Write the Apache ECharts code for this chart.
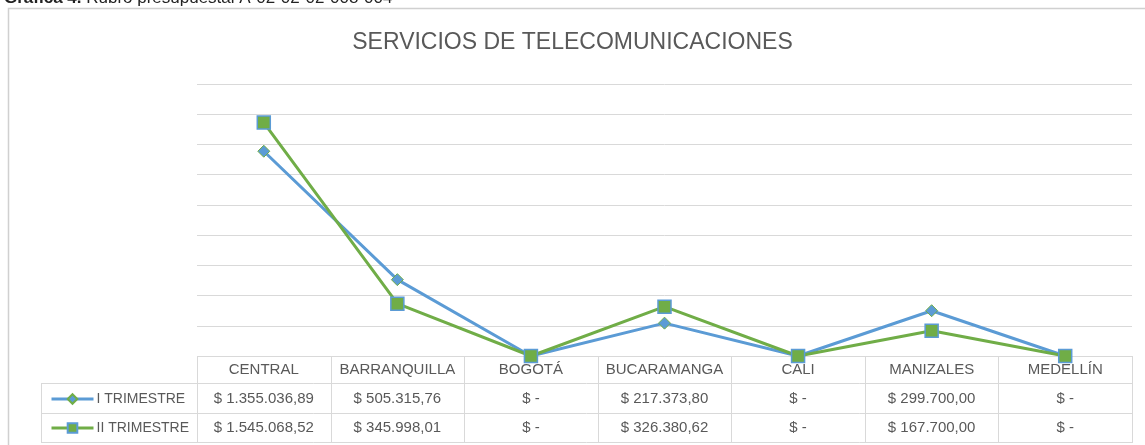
<!DOCTYPE html>
<html>
<head>
<meta charset="utf-8">
<script src="https://cdn.jsdelivr.net/npm/echarts@6/dist/echarts.min.js"></script>
<style>
  html, body { margin: 0; padding: 0; background: #fff; }
  #chart { width: 1145px; height: 445px; }
</style>
</head>
<body>
<div id="chart"></div>
<script>
// data
const categories = ['CENTRAL', 'BARRANQUILLA', 'BOGOTÁ', 'BUCARAMANGA', 'CALI', 'MANIZALES', 'MEDELLÍN'];
const seriesNames = ['I TRIMESTRE', 'II TRIMESTRE'];
const trimestreI = [1355036.89, 505315.76, 0, 217373.80, 0, 299700.00, 0];
const trimestreII = [1545068.52, 345998.01, 0, 326380.62, 0, 167700.00, 0];

// layout
const W = 1145;
const GRID_L = 197, GRID_R = 13, GRID_T = 84, BASE_Y = 356;
const ROWS = [356, 383, 413, 442];
const LEG_L = 41;
const LINE_C = '#d9d9d9';
const TXT_C = '#595959';
const FONT = 'Liberation Sans';

// "$ 1.355.036,89" style, zero as "$ -"
function money(v) {
    if (!v) return '$ -';
    const parts = v.toFixed(2).split('.');
    const ent = parts[0].replace(/\B(?=(\d{3})+(?!\d))/g, '.');
    return '$ ' + ent + ',' + parts[1];
}

const myChart = echarts.init(document.getElementById('chart'));

// table borders
const tableLines = [];
const plotW = W - GRID_L - GRID_R;
const bw = plotW / categories.length;
function hline(x1, x2, y) {
    tableLines.push({ type: 'line', silent: true, shape: { x1: x1, y1: y + 0.5, x2: x2, y2: y + 0.5 }, style: { stroke: LINE_C, lineWidth: 1 } });
}
function vline(x, y1, y2) {
    tableLines.push({ type: 'line', silent: true, shape: { x1: x + 0.5, y1: y1, x2: x + 0.5, y2: y2 }, style: { stroke: LINE_C, lineWidth: 1 } });
}
hline(GRID_L, W - GRID_R, ROWS[0]);
for (let r = 1; r < ROWS.length; r++) hline(LEG_L, W - GRID_R, ROWS[r]);
vline(LEG_L, ROWS[1], ROWS[3] + 1);
for (let i = 0; i <= categories.length; i++) vline(Math.round(GRID_L + i * bw), ROWS[0], ROWS[3] + 1);

const cellLabel = { color: TXT_C, fontSize: 15, fontFamily: FONT, interval: 0 };

myChart.setOption({
    animation: false,
    title: {
        text: 'SERVICIOS DE TELECOMUNICACIONES',
        left: 'center',
        top: 31,
        padding: 0,
        textStyle: { color: TXT_C, fontSize: 23, fontWeight: 'normal', fontFamily: FONT }
    },
    legend: {
        orient: 'vertical',
        left: 45,
        top: 387,
        itemGap: 15,
        itemWidth: 42,
        itemHeight: 12,
        data: [
            { name: seriesNames[0], lineStyle: { width: 3 } },
            { name: seriesNames[1], lineStyle: { width: 3 } }
        ],
        lineStyle: { width: 3 },
        textStyle: { color: TXT_C, fontSize: 14, fontFamily: FONT, padding: [0, 0, 0, -2] }
    },
    grid: { left: GRID_L, right: GRID_R, top: GRID_T, bottom: 445 - BASE_Y },
    xAxis: [
        {
            type: 'category',
            data: categories,
            boundaryGap: true,
            axisLine: { show: false },
            axisTick: { show: false },
            axisLabel: Object.assign({ margin: 6 }, cellLabel)
        },
        {
            type: 'category',
            data: categories,
            position: 'bottom',
            offset: 29,
            axisLine: { show: false },
            axisTick: { show: false },
            axisLabel: Object.assign({ margin: 6, formatter: (v, i) => money(trimestreI[i]) }, cellLabel)
        },
        {
            type: 'category',
            data: categories,
            position: 'bottom',
            offset: 58,
            axisLine: { show: false },
            axisTick: { show: false },
            axisLabel: Object.assign({ margin: 6, formatter: (v, i) => money(trimestreII[i]) }, cellLabel)
        }
    ],
    yAxis: {
        type: 'value',
        min: 0,
        max: 1800000,
        interval: 200000,
        axisLabel: { show: false },
        axisLine: { show: false },
        axisTick: { show: false },
        splitLine: { lineStyle: { color: LINE_C, width: 1 } }
    },
    series: [
        {
            name: seriesNames[0],
            type: 'line',
            data: trimestreI,
            symbol: 'diamond',
            symbolSize: 12,
            color: '#5b9bd5',
            lineStyle: { width: 3, color: '#5b9bd5' },
            itemStyle: { color: '#5b9bd5', borderColor: '#70ad47', borderWidth: 1 }
        },
        {
            name: seriesNames[1],
            type: 'line',
            data: trimestreII,
            symbol: 'rect',
            symbolSize: 13,
            color: '#70ad47',
            lineStyle: { width: 3, color: '#70ad47' },
            itemStyle: { color: '#70ad47', borderColor: '#5b9bd5', borderWidth: 1.5 }
        }
    ],
    graphic: [
        // outer chart frame, runs past the right/bottom edge
        { type: 'rect', silent: true, shape: { x: 8.5, y: 8.5, width: 1200, height: 500 },
          style: { fill: 'none', stroke: '#d0d0d0', lineWidth: 1.5 } },
        // caption above the frame, cut by the top edge
        { type: 'text', silent: true, x: 4, y: -10,
          style: { text: '{b|Gráfica 4.} Rubro presupuestal A-02-02-02-008-004',
                   font: '17px ' + FONT, fill: '#222', verticalAlign: 'top',
                   rich: { b: { fontWeight: 'bold', fontSize: 17, fontFamily: FONT, fill: '#222' } } } }
    ].concat(tableLines)
});
</script>
</body>
</html>
